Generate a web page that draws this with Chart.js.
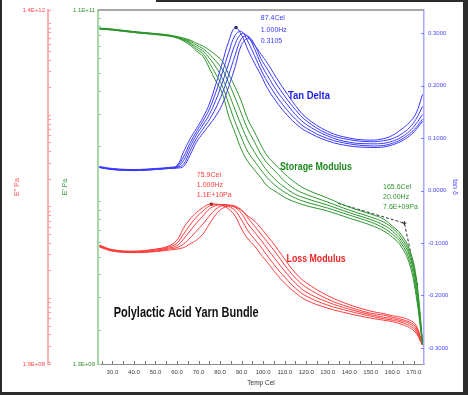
<!DOCTYPE html>
<html>
<head>
<meta charset="utf-8">
<script src="https://cdn.jsdelivr.net/npm/chart.js@4.4.1/dist/chart.umd.min.js"></script>
<style>
  html, body { margin: 0; padding: 0; background: #fff; }
  canvas { display: block; }
</style>
</head>
<body>
<canvas id="dma" width="468" height="395"></canvas>
<script>
// Temperatures (Cel) shared by every frequency sweep
const temps = [24, 30, 40, 50, 56, 60, 63, 66, 69, 72, 75, 78, 81, 84, 87, 90, 93, 96, 99, 102, 106, 110, 115, 120, 130, 140, 150, 156, 160, 164, 168, 171, 174];
const freqs = ['1 Hz', '2 Hz', '5 Hz', '10 Hz', '20 Hz'];

// Tan delta, one array per frequency
const tanDelta1 = [0.0457, 0.042, 0.040, 0.042, 0.044, 0.0476, 0.0734, 0.098, 0.118, 0.139, 0.165, 0.2025, 0.243, 0.284, 0.3105, 0.296, 0.2675, 0.2426, 0.2197, 0.1948, 0.170, 0.149, 0.128, 0.113, 0.0945, 0.085, 0.082, 0.083, 0.087, 0.0935, 0.104, 0.116, 0.132];
const tanDelta2 = [0.045, 0.041, 0.039, 0.041, 0.043, 0.046, 0.064, 0.090, 0.112, 0.132, 0.155, 0.187, 0.224, 0.263, 0.296, 0.303, 0.283, 0.257, 0.230, 0.207, 0.181, 0.159, 0.136, 0.119, 0.099, 0.089, 0.085, 0.086, 0.090, 0.097, 0.108, 0.120, 0.136];
const tanDelta3 = [0.044, 0.041, 0.039, 0.041, 0.043, 0.045, 0.057, 0.083, 0.106, 0.125, 0.145, 0.172, 0.205, 0.242, 0.279, 0.299, 0.293, 0.270, 0.241, 0.219, 0.192, 0.170, 0.145, 0.126, 0.104, 0.092, 0.089, 0.090, 0.094, 0.101, 0.113, 0.127, 0.145];
const tanDelta4 = [0.044, 0.040, 0.038, 0.040, 0.042, 0.044, 0.050, 0.075, 0.099, 0.117, 0.135, 0.157, 0.185, 0.220, 0.258, 0.290, 0.294, 0.278, 0.251, 0.231, 0.204, 0.180, 0.154, 0.133, 0.108, 0.097, 0.093, 0.095, 0.099, 0.107, 0.120, 0.136, 0.160];
const tanDelta5 = [0.0438, 0.040, 0.038, 0.040, 0.042, 0.0428, 0.0457, 0.067, 0.092, 0.109, 0.125, 0.142, 0.164, 0.198, 0.236, 0.278, 0.2895, 0.277, 0.2598, 0.2426, 0.2159, 0.191, 0.162, 0.139, 0.1126, 0.100, 0.096, 0.099, 0.105, 0.116, 0.130, 0.147, 0.183];

// Storage modulus E' (Pa)
const storage1 = [8.66e10, 8.55e10, 8.29e10, 8.08e10, 7.93e10, 7.74e10, 7.45e10, 7.09e10, 6.57e10, 6.17e10, 5.31e10, 4.51e10, 3.88e10, 2.91e10, 2.35e10, 1.90e10, 1.64e10, 1.48e10, 1.34e10, 1.21e10, 1.125e10, 1.05e10, 9.89e9, 9.46e9, 8.84e9, 8.09e9, 7.41e9, 6.88e9, 6.38e9, 5.70e9, 4.55e9, 3.08e9, 1.65e9];
const storage2 = [8.68e10, 8.57e10, 8.31e10, 8.10e10, 7.96e10, 7.78e10, 7.53e10, 7.22e10, 6.74e10, 6.37e10, 5.65e10, 4.92e10, 4.24e10, 3.39e10, 2.70e10, 2.21e10, 1.85e10, 1.65e10, 1.48e10, 1.34e10, 1.21e10, 1.12e10, 1.04e10, 9.89e9, 9.18e9, 8.41e9, 7.70e9, 7.14e9, 6.62e9, 5.92e9, 4.78e9, 3.28e9, 1.67e9];
const storage3 = [8.71e10, 8.60e10, 8.34e10, 8.13e10, 7.99e10, 7.82e10, 7.60e10, 7.31e10, 6.91e10, 6.57e10, 6.02e10, 5.38e10, 4.68e10, 3.88e10, 3.14e10, 2.56e10, 2.13e10, 1.85e10, 1.63e10, 1.46e10, 1.30e10, 1.19e10, 1.09e10, 1.035e10, 9.52e9, 8.67e9, 7.94e9, 7.41e9, 6.88e9, 6.14e9, 5.03e9, 3.49e9, 1.69e9];
const storage4 = [8.74e10, 8.63e10, 8.37e10, 8.16e10, 8.02e10, 7.85e10, 7.66e10, 7.45e10, 7.09e10, 6.78e10, 6.33e10, 5.80e10, 5.24e10, 4.41e10, 3.65e10, 2.98e10, 2.44e10, 2.10e10, 1.80e10, 1.61e10, 1.44e10, 1.285e10, 1.16e10, 1.09e10, 9.89e9, 8.95e9, 8.20e9, 7.70e9, 7.14e9, 6.38e9, 5.22e9, 3.72e9, 1.71e9];
const storage5 = [8.77e10, 8.66e10, 8.40e10, 8.19e10, 8.05e10, 7.88e10, 7.74e10, 7.55e10, 7.26e10, 7.00e10, 6.65e10, 6.25e10, 5.80e10, 4.92e10, 4.18e10, 3.47e10, 2.77e10, 2.38e10, 2.02e10, 1.76e10, 1.57e10, 1.41e10, 1.26e10, 1.16e10, 1.04e10, 9.29e9, 8.51e9, 7.99e9, 7.32e9, 6.62e9, 5.43e9, 3.91e9, 1.75e9];

// Loss modulus E'' (Pa)
const loss1 = [3.78e9, 3.38e9, 3.25e9, 3.42e9, 3.69e9, 4.29e9, 5.80e9, 7.27e9, 8.57e9, 9.71e9, 1.061e10, 1.061e10, 1.022e10, 9.36e9, 7.85e9, 5.66e9, 4.40e9, 3.69e9, 2.98e9, 2.44e9, 1.85e9, 1.45e9, 1.14e9, 9.46e8, 7.74e8, 6.74e8, 6.02e8, 5.72e8, 5.51e8, 5.18e8, 4.74e8, 4.13e8, 3.05e8];
const loss2 = [3.73e9, 3.33e9, 3.21e9, 3.38e9, 3.60e9, 3.98e9, 4.99e9, 6.26e9, 7.65e9, 8.90e9, 1.009e10, 1.048e10, 1.048e10, 9.97e9, 9.01e9, 7.09e9, 5.38e9, 4.40e9, 3.60e9, 2.87e9, 2.17e9, 1.69e9, 1.28e9, 1.05e9, 8.35e8, 7.18e8, 6.33e8, 5.94e8, 5.72e8, 5.44e8, 4.98e8, 4.34e8, 3.05e8];
const loss3 = [3.69e9, 3.33e9, 3.17e9, 3.33e9, 3.51e9, 3.73e9, 4.40e9, 5.38e9, 6.58e9, 7.85e9, 9.36e9, 1.022e10, 1.048e10, 1.035e10, 9.71e9, 8.36e9, 6.42e9, 5.25e9, 4.29e9, 3.42e9, 2.59e9, 1.97e9, 1.45e9, 1.16e9, 9.00e8, 7.55e8, 6.57e8, 6.17e8, 5.94e8, 5.65e8, 5.24e8, 4.56e8, 3.09e8];
const loss4 = [3.64e9, 3.29e9, 3.17e9, 3.25e9, 3.42e9, 3.55e9, 3.88e9, 4.51e9, 5.38e9, 6.42e9, 7.85e9, 9.36e9, 1.022e10, 1.035e10, 1.009e10, 9.12e9, 7.46e9, 6.10e9, 4.99e9, 4.08e9, 3.09e9, 2.29e9, 1.65e9, 1.31e9, 9.70e8, 7.94e8, 6.82e8, 6.49e8, 6.17e8, 5.87e8, 5.44e8, 4.80e8, 3.09e8];
const loss5 = [3.60e9, 3.25e9, 3.13e9, 3.21e9, 3.33e9, 3.42e9, 3.55e9, 3.88e9, 4.29e9, 4.99e9, 6.42e9, 8.15e9, 9.48e9, 1.009e10, 9.84e9, 9.01e9, 7.85e9, 6.92e9, 5.80e9, 4.74e9, 3.60e9, 2.66e9, 1.87e9, 1.47e9, 1.06e9, 8.45e8, 7.18e8, 6.74e8, 6.41e8, 6.17e8, 5.72e8, 5.05e8, 3.13e8];

// Picked points: tan delta peak, loss peak, onset tangents on the 20 Hz storage curve
const tanPeak = [87.4, 0.3105];
const lossPeak = [75.9, 1.06e10];
const onsetTemps = [134.8, 165.6, 171.9];
const onsetModulus = [9.75e9, 7.6e9, 3.42e9];

// Axis ranges and tick labels
const xMin = 23.3, xMax = 174.7;
const xTickLabels = ['30.0', '40.0', '50.0', '60.0', '70.0', '80.0', '90.0', '100.0', '110.0', '120.0', '130.0', '140.0', '150.0', '160.0', '170.0'];
const lossRange = [1.9e8, 1.4e12];
const lossTickLabels = ['1.9E+08', '1.4E+12'];
const storageRange = [1.3e9, 1.1e11];
const storageTickLabels = ['1.3E+09', '1.1E+11'];
const tanRange = [-0.3306, 0.344];
const tanTicks = [0.3, 0.2, 0.1, 0, -0.1, -0.2, -0.3];
const tanTickLabels = ['0.3000', '0.2000', '0.1000', '0.0000', '-0.1000', '-0.2000', '-0.3000'];

const RED = '#ff3b3b', GREEN = '#2e962e', BLUE = '#3a3aff';
const tickFont = { family: 'Liberation Sans', size: 6 };

function pairs(ys) {
    return temps.map((t, i) => ({ x: t, y: ys[i] }));
}

// all 1..9 x 10^n ticks between min and max, plus the ends
function logTicks(min, max) {
    const out = [min];
    for (let e = Math.floor(Math.log10(min)); e <= Math.ceil(Math.log10(max)); e++) {
        for (let m = 1; m < 10; m++) {
            const v = m * Math.pow(10, e);
            if (v > min * 1.001 && v < max * 0.999) out.push(v);
        }
    }
    out.push(max);
    return out.map(v => ({ value: v }));
}

function fixWidth(w) {
    return scale => {
        scale.width = w;
        scale.paddingTop = scale.paddingBottom = 0;
    };
}

const curveSets = [
    { arrays: [tanDelta1, tanDelta2, tanDelta3, tanDelta4, tanDelta5], axis: 'yTan', color: BLUE },
    { arrays: [storage1, storage2, storage3, storage4, storage5], axis: 'yStorage', color: GREEN },
    { arrays: [loss1, loss2, loss3, loss4, loss5], axis: 'yLoss', color: RED }
];

const datasets = [];
curveSets.forEach(set => {
    set.arrays.forEach((arr, i) => {
        datasets.push({
            label: freqs[i],
            data: pairs(arr),
            yAxisID: set.axis,
            borderColor: set.color,
            borderWidth: 1,
            pointRadius: 0,
            tension: 0.4,
            fill: false
        });
    });
});

datasets.push({
    label: 'onset',
    data: onsetTemps.map((t, i) => ({ x: t, y: onsetModulus[i] })),
    yAxisID: 'yStorage',
    borderColor: '#333',
    borderWidth: 1,
    borderDash: [3, 2],
    pointRadius: [0, 2, 0],
    pointStyle: 'cross',
    pointBorderColor: '#222',
    tension: 0
});
datasets.push({
    label: 'tan peak',
    data: [{ x: tanPeak[0], y: tanPeak[1] }],
    yAxisID: 'yTan',
    showLine: false,
    pointRadius: 1.5,
    pointStyle: 'rect',
    pointBackgroundColor: '#222',
    pointBorderColor: '#222'
});
datasets.push({
    label: 'loss peak',
    data: [{ x: lossPeak[0], y: lossPeak[1] }],
    yAxisID: 'yLoss',
    showLine: false,
    pointRadius: 1.5,
    pointStyle: 'rect',
    pointBackgroundColor: '#222',
    pointBorderColor: '#222'
});

// Text notes, anchored in data coordinates
const notes = [
    { axis: 'yTan', x: 98.9, y: 0.328, lines: ['87.4Cel', '1.000Hz', '0.3105'], color: BLUE, step: 11.3 },
    { axis: 'yLoss', x: 69.2, y: 2.2e10, lines: ['75.9Cel', '1.000Hz', '1.1E+10Pa'], color: RED, step: 10 },
    { axis: 'yStorage', x: 155.7, y: 1.2e10, lines: ['165.6Cel', '20.00Hz', '7.6E+09Pa'], color: GREEN, step: 10 }
];
const captions = [
    { axis: 'yTan', x: 111.5, y: 0.1795, text: 'Tan Delta', color: '#2323e6', size: 10, width: 42 },
    { axis: 'yStorage', x: 107.8, y: 1.54e10, text: 'Storage Modulus', color: '#1e8a1e', size: 10, width: 72 },
    { axis: 'yLoss', x: 110.9, y: 2.64e9, text: 'Loss Modulus', color: '#f02424', size: 10, width: 59 },
    { axis: 'yStorage', x: 30.6, y: 2.45e9, text: 'Polylactic Acid Yarn Bundle', color: '#111', size: 14, width: 145 }
];

const decorations = {
    id: 'decorations',
    beforeDraw(chart) {
        const ctx = chart.ctx;
        ctx.save();
        ctx.fillStyle = '#fff';
        ctx.fillRect(0, 0, chart.width, chart.height);
        ctx.restore();
    },
    afterDatasetsDraw(chart) {
        const ctx = chart.ctx;
        const xs = chart.scales.x;
        ctx.save();
        ctx.textBaseline = 'middle';
        ctx.textAlign = 'left';
        ctx.font = '7px "Liberation Sans"';
        notes.forEach(n => {
            const px = xs.getPixelForValue(n.x);
            const py = chart.scales[n.axis].getPixelForValue(n.y);
            ctx.fillStyle = n.color;
            n.lines.forEach((line, i) => ctx.fillText(line, px, py + i * n.step));
        });
        captions.forEach(c => {
            const px = xs.getPixelForValue(c.x);
            const py = chart.scales[c.axis].getPixelForValue(c.y);
            ctx.font = 'bold ' + c.size + 'px "Liberation Sans"';
            ctx.fillStyle = c.color;
            ctx.fillText(c.text, px, py, c.width);
        });
        ctx.restore();
    },
    afterDraw(chart) {
        const ctx = chart.ctx;
        const area = chart.chartArea;
        ctx.save();
        // inward tick marks
        ctx.lineWidth = 1;
        Object.values(chart.scales).forEach(scale => {
            ctx.strokeStyle = scale.options.tickMarkColor;
            scale.ticks.forEach(t => {
                const p = Math.round(scale.getPixelForValue(t.value)) + 0.5;
                ctx.beginPath();
                if (scale.isHorizontal()) {
                    ctx.moveTo(p, scale.top);
                    ctx.lineTo(p, scale.top - 3);
                } else if (scale.position === 'left') {
                    ctx.moveTo(scale.right, p);
                    ctx.lineTo(scale.right + 3, p);
                } else {
                    ctx.moveTo(scale.left, p);
                    ctx.lineTo(scale.left - 3, p);
                }
                ctx.stroke();
            });
        });
        // grey top edge of the plot
        ctx.fillStyle = '#a8a8a8';
        ctx.fillRect(area.left, area.top - 1, area.right - area.left, 2);
        // dark picture frame
        ctx.fillStyle = '#2b2b2b';
        ctx.fillRect(0, 0, 2, chart.height);
        ctx.fillRect(0, chart.height - 3, chart.width, 3);
        ctx.fillRect(chart.width - 5, 0, 5, chart.height);
        ctx.fillRect(156, 0, chart.width - 156, 2);
        ctx.restore();
    }
};

new Chart(document.getElementById('dma'), {
    type: 'line',
    data: { datasets },
    options: {
        responsive: false,
        animation: false,
        layout: { padding: { top: 10, left: 0, right: 0, bottom: 0 } },
        plugins: { legend: { display: false }, tooltip: { enabled: false } },
        scales: {
            x: {
                type: 'linear',
                min: xMin,
                max: xMax,
                tickMarkColor: '#777',
                border: { display: true, color: '#8c8c8c', width: 1 },
                grid: { display: false, drawTicks: false },
                afterBuildTicks: scale => {
                    const ticks = [];
                    for (let v = 25; v <= 170; v += 5) ticks.push({ value: v });
                    scale.ticks = ticks;
                },
                afterFit: scale => {
                    scale.height = 31;
                    scale.paddingLeft = scale.paddingRight = 0;
                },
                ticks: {
                    autoSkip: false,
                    maxRotation: 0,
                    padding: 5,
                    color: '#3a3a3a',
                    font: tickFont,
                    callback: v => (v % 10 === 0 ? xTickLabels[(v - 30) / 10] : '')
                },
                title: {
                    display: true,
                    text: 'Temp Cel',
                    color: '#333',
                    font: { family: 'Liberation Sans', size: 6.5 },
                    padding: { top: 0, bottom: 8 }
                }
            },
            yLoss: {
                type: 'logarithmic',
                position: 'left',
                weight: 2,
                min: lossRange[0],
                max: lossRange[1],
                tickMarkColor: '#ff9a9a',
                border: { display: true, color: '#ffb0b0', width: 2 },
                grid: { display: false, drawTicks: false },
                afterBuildTicks: scale => { scale.ticks = logTicks(lossRange[0], lossRange[1]); },
                afterFit: fixWidth(48),
                ticks: {
                    autoSkip: false,
                    padding: 3,
                    color: '#ff4a4a',
                    font: tickFont,
                    callback: v => (v === lossRange[0] ? lossTickLabels[0] : v === lossRange[1] ? lossTickLabels[1] : '')
                },
                title: {
                    display: true,
                    text: "E'' Pa",
                    color: '#ff5a5a',
                    font: { family: 'Liberation Sans', size: 7 },
                    padding: { top: 12.8, bottom: 0 }
                }
            },
            yStorage: {
                type: 'logarithmic',
                position: 'left',
                weight: 1,
                min: storageRange[0],
                max: storageRange[1],
                tickMarkColor: '#8fcf8f',
                border: { display: true, color: '#a6d9a6', width: 2 },
                grid: { display: false, drawTicks: false },
                afterBuildTicks: scale => { scale.ticks = logTicks(storageRange[0], storageRange[1]); },
                afterFit: fixWidth(50),
                ticks: {
                    autoSkip: false,
                    padding: 3,
                    color: '#2f8f2f',
                    font: tickFont,
                    callback: v => (v === storageRange[0] ? storageTickLabels[0] : v === storageRange[1] ? storageTickLabels[1] : '')
                },
                title: {
                    display: true,
                    text: "E' Pa",
                    color: '#3a9a3a',
                    font: { family: 'Liberation Sans', size: 7 },
                    padding: { top: 12.8, bottom: 0 }
                }
            },
            yTan: {
                type: 'linear',
                position: 'right',
                min: tanRange[0],
                max: tanRange[1],
                tickMarkColor: '#7c7cff',
                border: { display: true, color: '#a8a8ff', width: 1.5 },
                grid: { display: false, drawTicks: false },
                afterBuildTicks: scale => { scale.ticks = tanTicks.map(v => ({ value: v })); },
                afterFit: fixWidth(44),
                ticks: {
                    autoSkip: false,
                    padding: 4,
                    color: '#4848ff',
                    font: tickFont,
                    callback: (v, i) => tanTickLabels[i]
                },
                title: {
                    display: true,
                    text: 'tan δ',
                    color: '#5050ff',
                    font: { family: 'Liberation Sans', size: 7 },
                    padding: { top: 8.8, bottom: 0 }
                }
            }
        }
    },
    plugins: [decorations]
});
</script>
</body>
</html>
